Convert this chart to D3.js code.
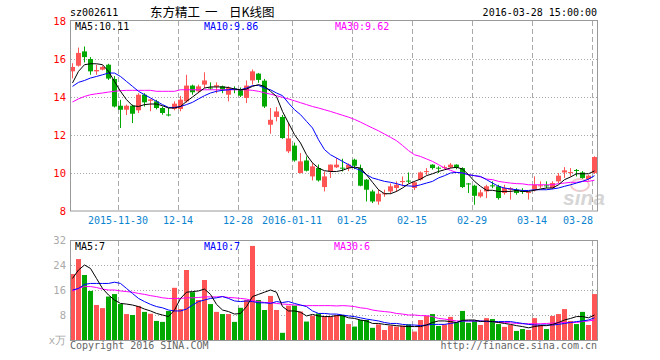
<!DOCTYPE html>
<html><head><meta charset="utf-8">
<script src="https://cdn.jsdelivr.net/npm/d3@7/dist/d3.min.js"></script>
<style>body{margin:0;background:#fff}svg{display:block}text{font-family:"DejaVu Sans Mono",monospace;font-size:10px}</style>
</head><body><svg id="c" width="660" height="360"></svg>
<script>
const opens=[15.35,15.65,16.40,16.00,15.35,15.44,15.70,14.95,13.54,13.33,13.54,13.30,14.12,13.80,13.77,13.42,13.08,13.37,13.37,13.77,14.60,14.30,14.65,14.50,14.55,14.56,14.12,14.45,14.42,13.95,14.87,15.23,14.86,12.54,12.95,12.95,11.14,11.44,10.00,10.66,9.82,10.26,9.26,10.08,10.30,10.28,10.26,10.70,10.26,9.65,9.03,8.50,8.88,9.03,9.21,9.52,9.60,9.21,9.65,10.05,10.44,10.28,10.27,10.30,10.44,10.26,9.45,9.33,8.77,9.03,9.35,9.30,8.95,9.12,9.12,9.06,8.95,9.12,9.30,9.35,9.21,9.56,10.03,10.00,10.16,10.03,9.68,10.00];
const highs=[15.78,16.60,16.66,16.10,15.70,15.65,15.75,15.10,13.85,13.60,13.60,14.20,14.20,13.90,13.85,13.50,13.43,13.77,14.06,15.17,14.65,14.65,15.30,14.77,14.77,14.60,14.56,14.56,14.50,14.87,15.45,15.26,14.95,13.42,13.47,13.05,12.63,11.60,11.05,10.87,10.52,10.45,10.08,10.45,10.79,10.75,10.50,10.75,10.44,9.68,9.12,9.12,9.12,9.45,9.56,9.82,10.03,9.56,10.08,10.26,10.46,10.35,10.40,10.52,10.46,10.30,9.47,9.38,9.12,9.38,9.56,9.38,9.38,9.26,9.20,9.20,9.03,9.82,9.56,9.56,9.56,10.00,10.31,10.26,10.21,10.10,9.90,10.88];
const lows=[14.98,15.60,15.82,15.17,15.17,15.40,14.90,13.45,12.37,13.05,12.63,13.16,13.50,13.25,13.35,13.07,12.98,13.30,13.25,13.70,14.12,14.20,14.47,14.38,14.20,14.20,13.77,14.20,14.00,13.68,14.65,14.75,13.42,12.07,12.72,11.80,11.05,10.60,9.98,10.08,9.61,9.55,9.03,9.74,10.26,10.08,10.10,10.20,9.30,8.50,8.42,8.33,8.75,8.90,9.00,9.30,9.47,9.10,9.60,9.90,10.18,10.00,10.20,10.26,10.20,9.21,8.95,8.33,8.70,8.68,9.20,8.60,8.86,8.60,8.86,8.90,8.60,9.03,9.20,9.20,9.15,9.47,9.74,9.82,9.82,9.70,9.60,9.95];
const closes=[15.58,16.32,16.10,15.35,15.42,15.58,14.97,13.50,13.33,13.54,13.12,14.12,13.72,13.87,13.42,13.16,13.04,13.65,13.86,14.60,14.25,14.56,14.87,14.45,14.62,14.38,14.47,14.40,14.07,14.60,15.35,14.90,13.50,12.80,13.24,11.84,11.82,10.66,10.61,10.12,10.35,9.61,9.82,10.44,10.44,10.24,10.44,10.38,9.33,9.12,8.50,8.91,8.93,9.30,9.38,9.58,9.55,9.51,10.03,10.10,10.26,10.25,10.32,10.44,10.28,9.26,9.40,8.80,8.98,9.30,9.30,8.68,9.21,9.20,8.95,9.00,9.00,9.38,9.35,9.32,9.47,9.86,10.14,10.05,10.12,9.74,9.86,10.84];
const ma5=[14.74,15.35,15.70,15.75,15.75,15.70,15.35,14.82,14.30,13.86,13.54,13.50,13.60,13.63,13.63,13.54,13.42,13.42,13.50,13.77,14.00,14.24,14.47,14.53,14.53,14.53,14.50,14.42,14.38,14.42,14.56,14.65,14.56,14.30,14.03,13.24,12.63,12.02,11.58,10.96,10.53,10.26,10.12,10.08,10.08,10.14,10.26,10.31,10.26,9.91,9.51,9.12,8.91,8.91,9.03,9.21,9.43,9.56,9.68,9.86,9.96,10.08,10.17,10.26,10.30,10.21,9.91,9.56,9.30,9.09,9.09,9.03,9.03,9.03,9.08,9.03,9.03,9.09,9.16,9.21,9.21,9.38,9.65,9.79,9.96,9.96,9.96,10.11];
const ma10=[14.56,14.77,14.87,15.00,15.08,15.17,15.26,15.26,15.08,14.82,14.56,14.30,14.12,13.95,13.77,13.60,13.45,13.45,13.50,13.60,13.72,13.90,14.07,14.21,14.30,14.35,14.38,14.42,14.38,14.47,14.60,14.61,14.47,14.38,14.21,14.07,13.68,13.33,13.07,12.72,12.37,11.75,11.23,10.96,10.79,10.61,10.44,10.26,10.14,9.91,9.74,9.65,9.56,9.51,9.44,9.35,9.32,9.30,9.38,9.47,9.56,9.74,9.86,10.00,10.03,10.00,9.91,9.86,9.82,9.65,9.47,9.30,9.21,9.16,9.12,9.08,9.08,9.12,9.12,9.12,9.16,9.21,9.30,9.38,9.47,9.56,9.68,9.86];
const ma30=[13.74,13.90,14.03,14.12,14.17,14.21,14.26,14.30,14.33,14.35,14.35,14.35,14.35,14.35,14.30,14.30,14.30,14.30,14.38,14.38,14.38,14.38,14.38,14.38,14.38,14.38,14.38,14.38,14.38,14.38,14.35,14.30,14.22,14.15,14.07,13.98,13.90,13.80,13.70,13.60,13.50,13.42,13.33,13.24,13.14,13.04,12.94,12.82,12.68,12.52,12.37,12.22,12.05,11.88,11.70,11.45,11.18,10.96,10.87,10.74,10.61,10.44,10.26,10.14,10.03,10.00,9.91,9.86,9.79,9.68,9.65,9.56,9.51,9.47,9.44,9.43,9.38,9.38,9.38,9.38,9.38,9.44,9.47,9.51,9.51,9.56,9.56,9.62];
const volumes=[21.1,25.9,20.8,15.7,11.2,10.2,13.9,14.7,11.5,8.3,8.0,10.9,9.0,8.4,6.1,5.8,9.3,16.7,9.9,22.4,15.3,12.8,19.2,11.5,9.0,8.3,8.3,5.8,10.3,12.8,30.1,12.8,9.6,14.1,9.6,2.3,11.0,11.0,9.1,5.9,7.8,8.5,7.5,7.5,8.0,8.0,5.1,4.3,6.4,6.4,3.9,5.0,3.2,4.6,4.3,4.6,5.0,2.7,6.4,7.7,8.3,4.5,5.0,7.4,5.6,9.3,5.5,6.1,4.8,7.0,6.7,5.1,4.2,4.8,2.9,3.5,3.2,7.0,4.8,3.5,7.7,8.3,9.9,6.1,5.1,9.0,4.8,14.7];
const vma5=[19.7,22.4,24.0,22.9,19.7,16.5,14.4,12.8,11.7,11.5,11.2,10.7,9.9,9.3,8.5,8.0,7.5,9.6,13.3,15.3,15.5,15.7,16.3,14.6,11.4,9.6,9.1,8.3,8.5,10.7,13.9,14.6,15.3,16.0,15.3,10.7,9.3,9.3,8.9,7.7,8.2,7.7,7.5,7.5,7.8,7.8,7.1,6.9,6.4,6.1,5.3,5.3,5.0,4.8,4.6,4.4,4.3,4.3,4.3,4.8,5.6,6.1,6.1,5.9,5.6,6.3,6.4,6.4,5.9,6.1,5.9,5.6,5.3,5.0,4.6,4.3,3.9,4.3,4.6,4.6,5.0,5.6,6.4,6.9,7.5,7.5,7.1,8.0];
const vma10=[16.0,16.5,17.8,18.1,18.1,18.1,18.1,18.5,18.1,16.5,14.9,13.3,12.3,11.4,10.7,10.3,9.6,9.3,9.3,9.9,11.2,12.3,12.8,13.3,13.5,13.9,13.3,12.5,12.3,12.5,12.3,11.9,11.9,11.7,12.3,12.0,12.3,11.7,11.2,10.7,9.3,8.5,8.5,8.3,8.3,8.0,7.7,7.5,7.1,6.7,6.4,6.1,5.6,5.3,5.3,5.0,4.8,4.8,4.6,4.8,5.0,5.0,5.0,5.3,5.6,6.1,6.1,6.1,6.1,5.9,5.9,5.9,5.9,5.9,5.6,5.3,5.0,4.8,4.8,4.8,4.8,5.0,5.3,5.6,5.9,6.1,6.4,7.1];
const vma30=[15.7,16.5,17.1,17.1,16.8,16.3,16.0,16.0,15.7,15.5,15.3,14.9,14.6,14.2,13.9,13.5,13.3,13.3,13.3,13.5,13.5,13.6,13.8,13.8,13.8,13.9,13.6,13.5,13.3,13.1,12.6,12.3,12.0,12.0,11.7,11.5,11.4,11.2,11.1,11.0,11.0,11.0,11.0,11.0,10.9,11.0,10.9,10.7,10.3,10.1,9.6,9.3,9.1,8.9,8.5,8.3,8.0,8.0,7.8,7.8,7.5,6.9,6.7,6.4,6.1,6.1,6.1,6.1,6.1,5.9,5.9,5.6,5.6,5.5,5.3,5.2,5.2,5.2,5.2,5.3,5.4,5.5,5.6,5.6,5.6,5.9,6.1,6.4];
const tickIndex=[8,18,28,37,47,57,67,77,87];
const tickLabels=["2015-11-30","12-14","12-28","2016-01-11","01-25","02-15","02-29","03-14","03-28"];
const priceTicks=[8,10,12,14,16,18];
const volTicks=[0,8,16,24,32];

const RED="#ff5555",GREEN="#00a800",GRID="#aaaaaa",BORDER="#999999";
const svg=d3.select("#c");
const n=closes.length;
const x=d3.scaleBand().domain(d3.range(n)).range([70,597]).paddingInner(1/6).paddingOuter(0);
const y=d3.scaleLinear().domain([8,18]).range([211,21]);
const yv=d3.scaleLinear().domain([0,32]).range([340,240]);
const cx=i=>x(i)+x.bandwidth()/2;
const up=i=>closes[i]>=opens[i];

function grid(top,bot,ys,scale){
  const g=svg.append("g");
  g.selectAll("line.v").data(tickIndex).join("line")
    .attr("x1",i=>Math.round(x(i))+0.5).attr("x2",i=>Math.round(x(i))+0.5)
    .attr("y1",top).attr("y2",bot).attr("stroke",GRID).attr("stroke-dasharray","5,3");
  g.selectAll("line.h").data(ys).join("line")
    .attr("x1",71).attr("x2",597).attr("y1",d=>Math.round(scale(d))+0.5).attr("y2",d=>Math.round(scale(d))+0.5)
    .attr("stroke",GRID).attr("stroke-dasharray","1,2");
}
grid(21,211,[10,12,14,16],y);
grid(241,340,[8,16,24],yv);

// watermark
svg.append("ellipse").attr("cx",580).attr("cy",185).attr("rx",9).attr("ry",6).attr("fill","none").attr("stroke","#f2caca").attr("stroke-width",2);
svg.append("text").attr("x",563).attr("y",205).attr("fill","#d6d6d6")
  .style("font-family","Liberation Sans,Arial,sans-serif").style("font-size","21px").style("font-style","italic").style("font-weight","bold").text("sina");

// candles
const cg=svg.append("g");
cg.selectAll("rect.w").data(d3.range(n)).join("rect")
  .attr("x",i=>Math.round(x(i))+2).attr("width",1)
  .attr("y",i=>y(highs[i])).attr("height",i=>Math.max(1,y(lows[i])-y(highs[i])))
  .attr("fill",i=>up(i)?RED:GREEN);
cg.selectAll("rect.b").data(d3.range(n)).join("rect")
  .attr("x",i=>Math.round(x(i))).attr("width",5)
  .attr("y",i=>y(Math.max(opens[i],closes[i])))
  .attr("height",i=>Math.max(1,Math.abs(y(opens[i])-y(closes[i]))))
  .attr("fill",i=>up(i)?RED:GREEN);

function ma(data,scale,color){
  svg.append("path").datum(data).attr("fill","none").attr("stroke",color).attr("stroke-width",1)
    .attr("d",d3.line().x((d,i)=>cx(i)).y(d=>scale(d)));
}
ma(ma30,y,"#ff00ff");ma(ma10,y,"#0000ff");ma(ma5,y,"#000000");

svg.append("g").selectAll("rect").data(d3.range(n)).join("rect")
  .attr("x",i=>Math.round(x(i))).attr("width",5)
  .attr("y",i=>yv(volumes[i])).attr("height",i=>340-yv(volumes[i]))
  .attr("fill",i=>up(i)?RED:GREEN);
ma(vma30,yv,"#ff00ff");ma(vma10,yv,"#0000ff");ma(vma5,yv,"#000000");

svg.append("rect").attr("x",70.5).attr("y",20.5).attr("width",527).attr("height",190.5).attr("fill","none").attr("stroke",BORDER);
svg.append("rect").attr("x",70.5).attr("y",240.5).attr("width",527).attr("height",100).attr("fill","none").attr("stroke",BORDER);

const ay=svg.append("g").attr("transform","translate(70,0)")
  .call(d3.axisLeft(y).tickValues(priceTicks).tickSize(0).tickPadding(4).tickFormat(d3.format("d")));
ay.select(".domain").remove();
ay.selectAll("text").attr("fill","#ff0000").style("font-size","10.5px");

const av=svg.append("g").attr("transform","translate(70,0)")
  .call(d3.axisLeft(yv).tickValues(volTicks).tickSize(0).tickPadding(4).tickFormat(d=>d===0?"x万":d));
av.select(".domain").remove();
av.selectAll("text").attr("fill","#aaaaaa").style("font-size","10.5px");

const ax=svg.append("g").attr("transform","translate(-2.5,211)")
  .call(d3.axisBottom(x).tickValues(tickIndex).tickSize(0).tickPadding(6).tickFormat((d,k)=>tickLabels[k]));
ax.select(".domain").remove();
ax.selectAll("text").attr("fill","#0a84d0").style("font-size","10px");
ax.selectAll(".tick").filter((d,k)=>k===tickIndex.length-1).select("text").attr("text-anchor","end").attr("x",1);

// header
svg.append("text").attr("x",70).attr("y",16).attr("fill","#000").text("sz002611");
const cjk=s=>s.style("font-family","Noto Sans CJK SC,sans-serif").style("font-size","12.5px");
cjk(svg.append("text").attr("x",150).attr("y",17).attr("fill","#000")).text("东方精工");
cjk(svg.append("text").attr("x",205).attr("y",17).attr("fill","#000")).text("一");
cjk(svg.append("text").attr("x",229).attr("y",17).attr("fill","#000")).text("日K线图");
svg.append("text").attr("x",597).attr("y",16).attr("text-anchor","end").attr("fill","#000").text("2016-03-28 15:00:00");

function legend(yy,items){
  items.forEach(([t,xx,c])=>svg.append("text").attr("x",xx).attr("y",yy).attr("fill",c).text(t));
}
legend(30,[["MA5:10.11",75,"#000"],["MA10:9.86",204,"#0000ff"],["MA30:9.62",335,"#ff00ff"]]);
legend(250,[["MA5:7",75,"#000"],["MA10:7",204,"#0000ff"],["MA30:6",334,"#ff00ff"]]);

svg.append("text").attr("x",70).attr("y",349).attr("fill","#666").text("Copyright 2016 SINA.COM");
svg.append("text").attr("x",597).attr("y",349).attr("text-anchor","end").attr("fill","#666").text("http://finance.sina.com.cn");
</script></body></html>
